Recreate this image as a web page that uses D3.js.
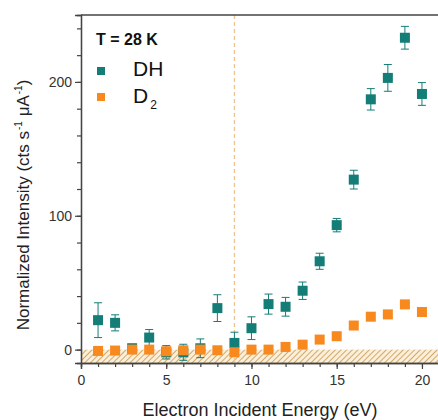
<!DOCTYPE html>
<html>
<head>
<meta charset="utf-8">
<script src="https://cdn.jsdelivr.net/npm/d3@7"></script>
<style>
  html, body { margin: 0; padding: 0; background: #fff; }
  svg { display: block; }
  text { font-family: "Liberation Sans", Arial, sans-serif; }
</style>
</head>
<body>
<svg id="chart" width="438" height="420"></svg>
<script>
const energy = [1,2,3,4,5,6,7,8,9,10,11,12,13,14,15,16,17,18,19,20];
const dhValues = [22,20,1,9,-2,-2,1,31,5,16,34,32,44,66,93,127,187,203,233,191];
const dhErrors = [13,6,3,6,5,6,7,10,8,8.5,7.5,7,6.5,6,5,7,8,10,8.5,8.5];
const d2Values = [-1,-0.7,0,0,-1.2,-0.5,0,-0.5,-2,0,0,2,3.7,7.5,10,18,24.6,26.3,33.8,28.1];
const xMajorTicks = [0,5,10,15,20];
const yMajorTicks = [0,100,200];
const thresholdEnergy = 9;
const seriesNames = ["DH", "D"];
const tempLabel = "T = 28 K";

const svg = d3.select("#chart");
const mLeft = 81, mTop = 15, mBottom = 363, mRight = 439;
const x = d3.scaleLinear().domain([0, 21]).range([mLeft, mRight]);
const y = d3.scaleLinear().domain([-10, 250]).range([mBottom, mTop]);
const teal = "#157d77", orange = "#f7891f";

// hatch pattern
const defs = svg.append("defs");
const pat = defs.append("pattern").attr("id", "hatch").attr("patternUnits", "userSpaceOnUse")
  .attr("width", 4).attr("height", 4).attr("patternTransform", "rotate(45)");
pat.append("rect").attr("width", 4).attr("height", 4).attr("fill", "#fbefd9");
pat.append("line").attr("x1", 0).attr("y1", 0).attr("x2", 0).attr("y2", 4)
  .attr("stroke", "#bf8b3c").attr("stroke-width", 1.4);

svg.append("rect").attr("x", x(0)).attr("y", y(0)).attr("width", x(21) - x(0))
  .attr("height", y(-10) - y(0)).attr("fill", "url(#hatch)");

// dashed threshold line
svg.append("line").attr("x1", x(thresholdEnergy)).attr("x2", x(thresholdEnergy))
  .attr("y1", y(250)).attr("y2", y(-10))
  .attr("stroke", "#eec38c").attr("stroke-width", 1.3).attr("stroke-dasharray", "4,3");

// axes
const xAxisMinor = d3.axisBottom(x).tickValues(d3.range(0, 22, 1)).tickSize(4).tickFormat("");
const xAxis = d3.axisBottom(x).tickValues(xMajorTicks).tickSize(6).tickPadding(6).tickFormat(d3.format("d"));
const yAxisMinor = d3.axisLeft(y).tickValues(d3.range(0, 250, 20)).tickSize(4).tickFormat("");
const yAxis = d3.axisLeft(y).tickValues(yMajorTicks).tickSize(6).tickPadding(3).tickFormat(d3.format("d"));

function styleAxis(g) {
  g.select(".domain").attr("stroke", "#444").attr("stroke-width", 1.3);
  g.selectAll(".tick line").attr("stroke", "#444").attr("stroke-width", 1.2);
  g.selectAll(".tick text").attr("fill", "#333").style("font-size", "14px")
    .style("font-family", "'Liberation Sans', Arial, sans-serif");
}
svg.append("g").attr("transform", `translate(0,${mBottom})`).call(xAxisMinor).call(styleAxis);
svg.append("g").attr("transform", `translate(0,${mBottom})`).call(xAxis).call(styleAxis);
svg.append("g").attr("transform", `translate(${mLeft},0)`).call(yAxisMinor).call(styleAxis);
svg.append("g").attr("transform", `translate(${mLeft},0)`).call(yAxis).call(styleAxis);

// top border
svg.append("line").attr("x1", mLeft).attr("x2", 438).attr("y1", mTop).attr("y2", mTop)
  .attr("stroke", "#444").attr("stroke-width", 1.3);

// DH error bars
const dh = energy.map((e, i) => ({ e, v: dhValues[i], err: dhErrors[i] }));
const eb = svg.append("g").attr("stroke", teal).attr("stroke-width", 1);
eb.selectAll("line.v").data(dh).join("line").attr("class", "v")
  .attr("x1", d => x(d.e)).attr("x2", d => x(d.e))
  .attr("y1", d => y(d.v - d.err)).attr("y2", d => y(d.v + d.err));
eb.selectAll("line.t").data(dh).join("line").attr("class", "t")
  .attr("x1", d => x(d.e) - 4).attr("x2", d => x(d.e) + 4)
  .attr("y1", d => y(d.v + d.err)).attr("y2", d => y(d.v + d.err));
eb.selectAll("line.b").data(dh).join("line").attr("class", "b")
  .attr("x1", d => x(d.e) - 4).attr("x2", d => x(d.e) + 4)
  .attr("y1", d => y(d.v - d.err)).attr("y2", d => y(d.v - d.err));

const s = 10;
svg.append("g").selectAll("rect").data(dh).join("rect")
  .attr("x", d => x(d.e) - s / 2).attr("y", d => y(d.v) - s / 2)
  .attr("width", s).attr("height", s).attr("fill", teal);

const d2 = energy.map((e, i) => ({ e, v: d2Values[i] }));
svg.append("g").selectAll("rect").data(d2).join("rect")
  .attr("x", d => x(d.e) - s / 2).attr("y", d => y(d.v) - s / 2)
  .attr("width", s).attr("height", s).attr("fill", orange);

// legend
svg.append("text").attr("x", 96).attr("y", 45).attr("font-weight", "bold")
  .style("font-size", "16px").attr("fill", "#111").text(tempLabel);
svg.append("rect").attr("x", 97).attr("y", 67).attr("width", 8).attr("height", 8).attr("fill", teal);
svg.append("rect").attr("x", 97).attr("y", 93).attr("width", 8).attr("height", 8).attr("fill", orange);
svg.append("text").attr("x", 133).attr("y", 76).style("font-size", "21px").attr("fill", "#111").text(seriesNames[0]);
const d2t = svg.append("text").attr("x", 133).attr("y", 103).style("font-size", "21px").attr("fill", "#111");
d2t.append("tspan").text(seriesNames[1]);
d2t.append("tspan").attr("dy", 6).attr("dx", 2).style("font-size", "12px").text("2");

// axis titles
svg.append("text").attr("x", 260).attr("y", 416).attr("text-anchor", "middle")
  .style("font-size", "18px").attr("fill", "#222").text("Electron Incident Energy (eV)");
const yl = svg.append("text").attr("transform", "translate(29,205) rotate(-90)")
  .attr("text-anchor", "middle").style("font-size", "17px").attr("fill", "#222");
yl.append("tspan").text("Normalized Intensity (cts s");
yl.append("tspan").attr("dy", -7).attr("dx", 1).style("font-size", "10px").text("-1");
yl.append("tspan").attr("dy", 7).text(" μA");
yl.append("tspan").attr("dy", -7).attr("dx", 1).style("font-size", "10px").text("-1");
yl.append("tspan").attr("dy", 7).text(")");
</script>
</body>
</html>
